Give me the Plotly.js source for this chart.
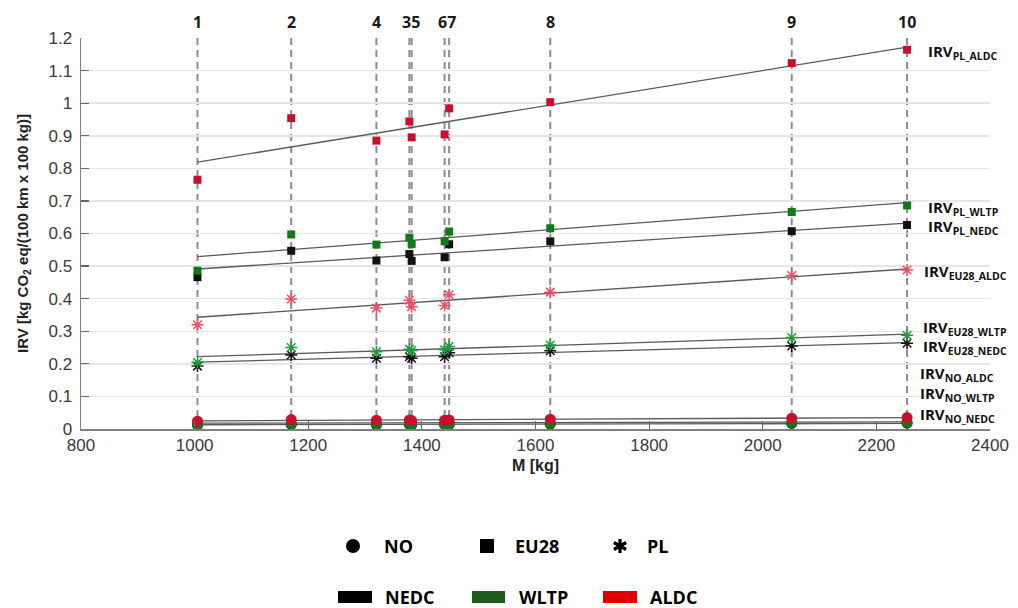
<!DOCTYPE html>
<html>
<head>
<meta charset="utf-8">
<script src="https://cdn.plot.ly/plotly-3.0.1.min.js"></script>
<style>html,body{margin:0;padding:0;background:#fff;}#chart{width:1018px;height:608px;}</style>
</head>
<body>
<div id="chart"></div>
<script>
// ---- data ----
const carNumbers = [1, 2, 3, 4, 5, 6, 7, 8, 9, 10];
const carMass = [1005, 1170, 1378, 1320, 1382, 1440, 1448, 1626, 2051, 2254];

const PL_ALDC = [0.765, 0.954, 0.944, 0.885, 0.895, 0.904, 0.984, 1.003, 1.123, 1.164];
const PL_WLTP = [0.486, 0.597, 0.587, 0.566, 0.568, 0.576, 0.606, 0.616, 0.666, 0.686];
const PL_NEDC = [0.466, 0.547, 0.537, 0.517, 0.516, 0.527, 0.567, 0.576, 0.607, 0.626];
const EU28_ALDC = [0.320, 0.399, 0.395, 0.371, 0.375, 0.379, 0.412, 0.420, 0.471, 0.488];
const EU28_WLTP = [0.204, 0.250, 0.245, 0.237, 0.241, 0.243, 0.253, 0.258, 0.281, 0.288];
const EU28_NEDC = [0.193, 0.227, 0.222, 0.217, 0.217, 0.222, 0.234, 0.240, 0.255, 0.263];
const NO_ALDC = [0.024, 0.029, 0.028, 0.027, 0.026, 0.027, 0.028, 0.030, 0.033, 0.035];
const NO_WLTP = [0.014, 0.016, 0.016, 0.015, 0.015, 0.016, 0.016, 0.017, 0.019, 0.020];
const NO_NEDC = [0.012, 0.014, 0.014, 0.013, 0.013, 0.014, 0.014, 0.015, 0.017, 0.018];

// trend lines: value at the lightest and heaviest car
const trendMass = [1005, 2254];
const trend_PL_ALDC = [0.819, 1.172];
const trend_PL_WLTP = [0.529, 0.695];
const trend_PL_NEDC = [0.491, 0.632];
const trend_EU28_ALDC = [0.343, 0.491];
const trend_EU28_WLTP = [0.222, 0.291];
const trend_EU28_NEDC = [0.205, 0.265];
const trend_NO_ALDC = [0.025, 0.035];
const trend_NO_WLTP = [0.018, 0.022];
const trend_NO_NEDC = [0.013, 0.017];

// car labels above the plot
const topLabels = ["1", "2", "4", "35", "67", "8", "9", "10"];
const topLabelMass = [1005, 1170, 1320, 1380, 1444, 1626, 2051, 2254];

const seriesLabels = ["PL_ALDC", "PL_WLTP", "PL_NEDC", "EU28_ALDC", "EU28_WLTP", "EU28_NEDC", "NO_ALDC", "NO_WLTP", "NO_NEDC"];

const legendSymbols = ["NO", "EU28", "PL"];
const legendCycles = ["NEDC", "WLTP", "ALDC"];

// ---- layout geometry ----
const W = 1018, H = 608;
const PL = 81, PR = 990, PT = 38, PB = 429;
const px2x = p => (p - PL) / (PR - PL);
const py2y = p => (PB - p) / (PB - PT);

const C_BLACK = "#111111", C_GREEN = "#0f7a18", C_RED = "#c8102e";
const C_GREEN_AST = "#1f9a3a", C_RED_AST = "#e8506a";
const TREND = "#5a5a5a";

const traces = [];
function trend(y) {
  traces.push({x: trendMass, y: y, mode: "lines", type: "scatter",
    line: {color: TREND, width: 1.3}, hoverinfo: "skip", showlegend: false});
}
function pts(y, symbol, color, size, lineColor, lw) {
  traces.push({x: carMass, y: y, mode: "markers", type: "scatter", showlegend: false,
    marker: {symbol: symbol, size: size, color: color,
      line: {color: lineColor || color, width: lw || 0}}});
}
// trend lines
[trend_PL_ALDC, trend_PL_WLTP, trend_PL_NEDC, trend_EU28_ALDC, trend_EU28_WLTP,
 trend_EU28_NEDC, trend_NO_ALDC, trend_NO_WLTP, trend_NO_NEDC].forEach(trend);
// squares
pts(PL_NEDC, "square", C_BLACK, 8);
pts(PL_WLTP, "square", C_GREEN, 8);
pts(PL_ALDC, "square", C_RED, 8);
// asterisks
pts(EU28_NEDC, "asterisk-open", C_BLACK, 10, C_BLACK, 1.5);
pts(EU28_WLTP, "asterisk-open", C_GREEN_AST, 10, C_GREEN_AST, 1.5);
pts(EU28_ALDC, "asterisk-open", C_RED_AST, 10, C_RED_AST, 1.5);
// circles
pts(NO_NEDC, "circle", C_BLACK, 11);
pts(NO_WLTP, "circle", C_GREEN, 11);
pts(NO_ALDC, "circle", C_RED, 11);

const shapes = [];
const annotations = [];

// vertical dashed lines at every car
carMass.forEach(m => {
  shapes.push({type: "line", xref: "x", yref: "paper", x0: m, x1: m, y0: 0, y1: 1,
    layer: "between", line: {color: "#8c8c8c", width: 2, dash: "7px,5px"}});
});
// top labels
topLabels.forEach((t, i) => {
  annotations.push({text: "<b>" + t + "</b>", xref: "x", yref: "paper", x: topLabelMass[i],
    y: py2y(22), xanchor: "center", yanchor: "middle", showarrow: false,
    font: {family: "Open Sans", size: 16, color: "#1a1a1a"}});
});
// right-side series labels
const labelPos = [[927, 49], [927, 205], [927, 224], [923, 269], [922, 325], [922, 344], [919, 371], [919, 391], [919, 412]];
seriesLabels.forEach((s, i) => {
  annotations.push({text: "<b>IRV<sub>" + s + "</sub></b>", xref: "paper", yref: "paper",
    x: px2x(labelPos[i][0]), y: py2y(labelPos[i][1] + 3), xanchor: "left", yanchor: "middle",
    showarrow: false, borderpad: 0, font: {family: "Open Sans", size: 15, color: "#111"}});
});

// bottom legend: symbols
const row1 = 546, row2 = 597;
shapes.push({type: "circle", xref: "paper", yref: "paper", xsizemode: "pixel", ysizemode: "pixel",
  xanchor: px2x(353), yanchor: py2y(row1), x0: -7, x1: 7, y0: -7, y1: 7,
  fillcolor: "#000", line: {width: 0}});
shapes.push({type: "rect", xref: "paper", yref: "paper", xsizemode: "pixel", ysizemode: "pixel",
  xanchor: px2x(487), yanchor: py2y(row1), x0: -7, x1: 7, y0: -7, y1: 7,
  fillcolor: "#000", line: {width: 0}});
shapes.push({type: "path", xref: "paper", yref: "paper", xsizemode: "pixel", ysizemode: "pixel",
  xanchor: px2x(620), yanchor: py2y(row1),
  path: "M0,7 L0,-7 M-6.1,3.5 L6.1,-3.5 M-6.1,-3.5 L6.1,3.5",
  line: {color: "#000", width: 3.2}});
const symTextX = [382, 513, 645];
legendSymbols.forEach((t, i) => {
  annotations.push({text: "<b>" + t + "</b>", xref: "paper", yref: "paper", x: px2x(symTextX[i]),
    y: py2y(row1), xanchor: "left", yanchor: "middle", showarrow: false,
    font: {family: "Open Sans", size: 18, color: "#000"}});
});
// bottom legend: cycles
const cycleColors = ["#000000", "#1f5a1f", "#e00000"];
const cycleRect = [[338, 372], [472, 505], [603, 637]];
const cycleTextX = [383, 517, 648];
legendCycles.forEach((t, i) => {
  shapes.push({type: "rect", xref: "paper", yref: "paper", x0: px2x(cycleRect[i][0]), x1: px2x(cycleRect[i][1]),
    y0: py2y(row2 + 6), y1: py2y(row2 - 6), fillcolor: cycleColors[i], line: {width: 0}});
  annotations.push({text: "<b>" + t + "</b>", xref: "paper", yref: "paper", x: px2x(cycleTextX[i]),
    y: py2y(row2), xanchor: "left", yanchor: "middle", showarrow: false,
    font: {family: "Open Sans", size: 18, color: "#000"}});
});

const layout = {
  width: W, height: H,
  margin: {l: PL, r: W - PR, t: PT, b: H - PB},
  paper_bgcolor: "#fff", plot_bgcolor: "#fff",
  showlegend: false,
  font: {family: "Liberation Sans, Arial, sans-serif", color: "#333"},
  xaxis: {
    range: [800, 2400], dtick: 200, tick0: 800, showgrid: false, zeroline: false,
    showline: true, linecolor: "#808080", linewidth: 1.5,
    ticks: "inside", ticklen: 8, tickcolor: "#666", tickwidth: 1.2,
    tickfont: {family: "Liberation Sans", size: 17, color: "#3a3a3a"},
    title: {text: "<b>M [kg]</b>", font: {family: "Liberation Sans", size: 16, color: "#222"}, standoff: 6}
  },
  yaxis: {
    range: [0, 1.2], dtick: 0.1, tick0: 0, showgrid: true, gridcolor: "#e6e6e6", gridwidth: 1.5,
    zeroline: false, showline: true, linecolor: "#808080", linewidth: 1.5,
    ticks: "inside", ticklen: 8, tickcolor: "#666", tickwidth: 1.2,
    ticklabelstandoff: 4,
    tickfont: {family: "Liberation Sans", size: 17, color: "#3a3a3a"},
    title: {text: "<b>IRV [kg CO<sub>2</sub> eq/(100 km x 100 kg)]</b>", font: {family: "Liberation Sans", size: 15, color: "#222"}, standoff: 16}
  },
  shapes: shapes,
  annotations: annotations
};

Plotly.newPlot("chart", traces, layout, {displayModeBar: false, staticPlot: true});
</script>
</body>
</html>
